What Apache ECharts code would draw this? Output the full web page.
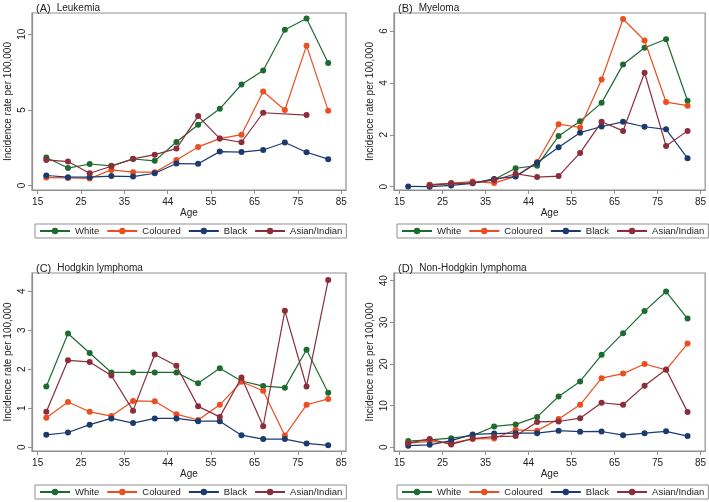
<!DOCTYPE html>
<html>
<head>
<meta charset="utf-8">
<script src="https://cdn.jsdelivr.net/npm/echarts@6/dist/echarts.min.js"></script>
<style>html,body{margin:0;padding:0;background:#fff}#c{width:709px;height:502px}</style>
</head>
<body>
<div id="c"></div>
<script>
// ---- data ----
const ages = [17,22,27,32,37,42,47,52,57,62,67,72,77,82];
const xTickValues = [15,25,35,45,55,65,75,85];
const xTickLabels = ['15','25','35','44','55','65','75','85'];
const groups = ['White','Coloured','Black','Asian/Indian'];

const panelTitles = ['(A)', '(B)', '(C)', '(D)'];
const panelNames = ['Leukemia', 'Myeloma', 'Hodgkin lymphoma', 'Non-Hodgkin lymphoma'];
const yTicksA = [0,5,10];
const yTicksB = [0,2,4,6];
const yTicksC = [0,1,2,3,4];
const yTicksD = [0,10,20,30,40];

// (A) Leukemia
const leukWhite    = [1.85,1.15,1.42,1.3,1.75,1.63,2.88,4.02,5.07,6.68,7.6,10.3,11.05,8.1];
const leukColoured = [0.52,0.5,0.46,1.03,0.88,0.88,1.69,2.55,3.1,3.36,6.22,4.99,9.25,4.95];
const leukBlack    = [0.66,0.55,0.55,0.62,0.59,0.81,1.45,1.43,2.24,2.21,2.35,2.84,2.2,1.74];
const leukAsian    = [1.69,1.58,0.81,1.27,1.76,2.04,2.44,4.59,3.1,2.86,4.81,null,4.66,null];
// (B) Myeloma
const myelWhite    = [null,0.08,0.12,0.15,0.28,0.71,0.81,1.95,2.52,3.23,4.71,5.35,5.68,3.31];
const myelColoured = [null,0.07,0.13,0.2,0.14,0.4,0.95,2.41,2.28,4.13,6.46,5.63,3.26,3.12];
const myelBlack    = [0.01,0.0,0.05,0.13,0.3,0.39,0.92,1.52,2.08,2.32,2.5,2.31,2.21,1.1];
const myelAsian    = [null,0.05,0.13,0.15,0.25,0.5,0.37,0.41,1.3,2.5,2.15,4.39,1.57,2.15];
// (C) Hodgkin lymphoma
const hodgWhite    = [1.56,2.92,2.42,1.92,1.92,1.92,1.92,1.64,2.03,1.7,1.57,1.53,2.5,1.4];
const hodgColoured = [0.76,1.16,0.91,0.8,1.19,1.18,0.85,0.7,1.09,1.68,1.45,0.3,1.09,1.24];
const hodgBlack    = [0.32,0.38,0.58,0.74,0.62,0.74,0.74,0.67,0.67,0.31,0.21,0.21,0.1,0.05];
const hodgAsian    = [0.91,2.23,2.19,1.84,0.94,2.38,2.09,1.05,0.78,1.79,0.54,3.5,1.56,4.29];
// (D) Non-Hodgkin lymphoma
const nhlWhite     = [1.5,1.8,2.2,2.8,5.0,5.5,7.3,12.2,15.8,22.2,27.4,32.7,37.4,30.9];
const nhlColoured  = [1.0,1.4,1.0,2.0,2.1,4.2,4.0,6.8,10.2,16.6,17.7,20.0,18.6,24.9];
const nhlBlack     = [0.4,0.6,1.6,3.1,3.3,3.4,3.4,4.0,3.76,3.8,2.9,3.4,3.84,2.7];
const nhlAsian     = [1.0,2.0,0.7,2.1,2.56,2.7,6.1,6.2,7.0,10.7,10.2,14.8,18.7,8.5];

// ---- styling / layout ----
const colors = ['#1e6b32','#ec4e20','#1b3b6f','#8b2d3b'];
const FONT = 'Liberation Sans';
const TXT = '#222';
const FRAME = '#8f8f8f';
const LEGEND_W = 308;

const panels = [
  {data:[leukWhite,leukColoured,leukBlack,leukAsian], ticks:yTicksA, ymin:-0.30, ymax:11.41, grid:{left:32, top:13, width:314, height:177}},
  {data:[myelWhite,myelColoured,myelBlack,myelAsian], ticks:yTicksB, ymin:-0.127, ymax:6.69, grid:{left:394, top:13, width:313, height:177}},
  {data:[hodgWhite,hodgColoured,hodgBlack,hodgAsian], ticks:yTicksC, ymin:-0.095, ymax:4.47, grid:{left:32, top:273, width:314, height:178}},
  {data:[nhlWhite,nhlColoured,nhlBlack,nhlAsian], ticks:yTicksD, ymin:-0.89, ymax:41.85, grid:{left:394, top:273, width:313, height:178}}
];

const grids = [], xAxes = [], yAxes = [], series = [], titles = [], legends = [];
panels.forEach((p, i) => {
  grids.push(Object.assign({show:true, borderColor:FRAME, borderWidth:1.2, backgroundColor:'#fff'}, p.grid));
  xAxes.push({
    type:'value', gridIndex:i, min:13.7, max:86.1,
    name:'Age', nameLocation:'middle', nameGap:17,
    nameTextStyle:{fontFamily:FONT, fontSize:10, color:TXT},
    axisLine:{show:true, onZero:false, lineStyle:{color:FRAME, width:1.2}},
    axisTick:{show:true, length:4, lineStyle:{color:FRAME}, customValues:xTickValues},
    axisLabel:{fontFamily:FONT, fontSize:10, color:TXT, margin:7, customValues:xTickValues,
      formatter:(v)=>{const k=xTickValues.indexOf(v); return k>=0?xTickLabels[k]:'';}},
    splitLine:{show:false}
  });
  yAxes.push({
    type:'value', gridIndex:i, min:p.ymin, max:p.ymax,
    name:'Incidence rate per 100,000', nameLocation:'middle', nameGap:19,
    nameTextStyle:{fontFamily:FONT, fontSize:10, color:TXT},
    axisLine:{show:true, onZero:false, lineStyle:{color:FRAME, width:1.2}},
    axisTick:{show:true, length:4, lineStyle:{color:FRAME}, customValues:p.ticks},
    axisLabel:{fontFamily:FONT, fontSize:10, color:TXT, rotate:90, margin:5, customValues:p.ticks,
      formatter:(v)=>String(v)},
    splitLine:{show:false}
  });
  p.data.forEach((vals, s) => {
    series.push({
      name:groups[s], type:'line', xAxisIndex:i, yAxisIndex:i,
      data:ages.map((a,k)=>[a, vals[k]===null?'-':vals[k]]),
      connectNulls:true,
      symbol:'circle', symbolSize:6, showAllSymbol:true,
      lineStyle:{color:colors[s], width:1.2},
      itemStyle:{color:colors[s]},
      emphasis:{disabled:true}, animation:false, z:2+s
    });
  });
  titles.push({
    text:'{a|' + panelTitles[i] + '}{b|' + panelNames[i] + '}',
    left:p.grid.left - 1, top:p.grid.top - 15,
    textStyle:{fontWeight:'normal', rich:{a:{fontFamily:FONT, fontSize:11, fontWeight:'normal', color:TXT}, b:{fontFamily:FONT, fontSize:10, fontWeight:'normal', color:TXT, padding:[0,0,0,6]}}}
  });
  legends.push({
    data:groups,
    left:Math.round(p.grid.left + p.grid.width/2 - LEGEND_W/2),
    top:p.grid.top + p.grid.height + 34,
    orient:'horizontal', align:'left',
    borderColor:FRAME, borderWidth:1, padding:[2,4],
    itemWidth:30, itemHeight:8, itemGap:7,
    textStyle:{fontFamily:FONT, fontSize:9.5, color:TXT},
    selectedMode:false
  });
});

const chart = echarts.init(document.getElementById('c'), null, {renderer:'canvas'});
chart.setOption({
  backgroundColor:'#fff', animation:false, color:colors,
  title:titles, grid:grids, xAxis:xAxes, yAxis:yAxes, series:series, legend:legends
});
</script>
</body>
</html>
